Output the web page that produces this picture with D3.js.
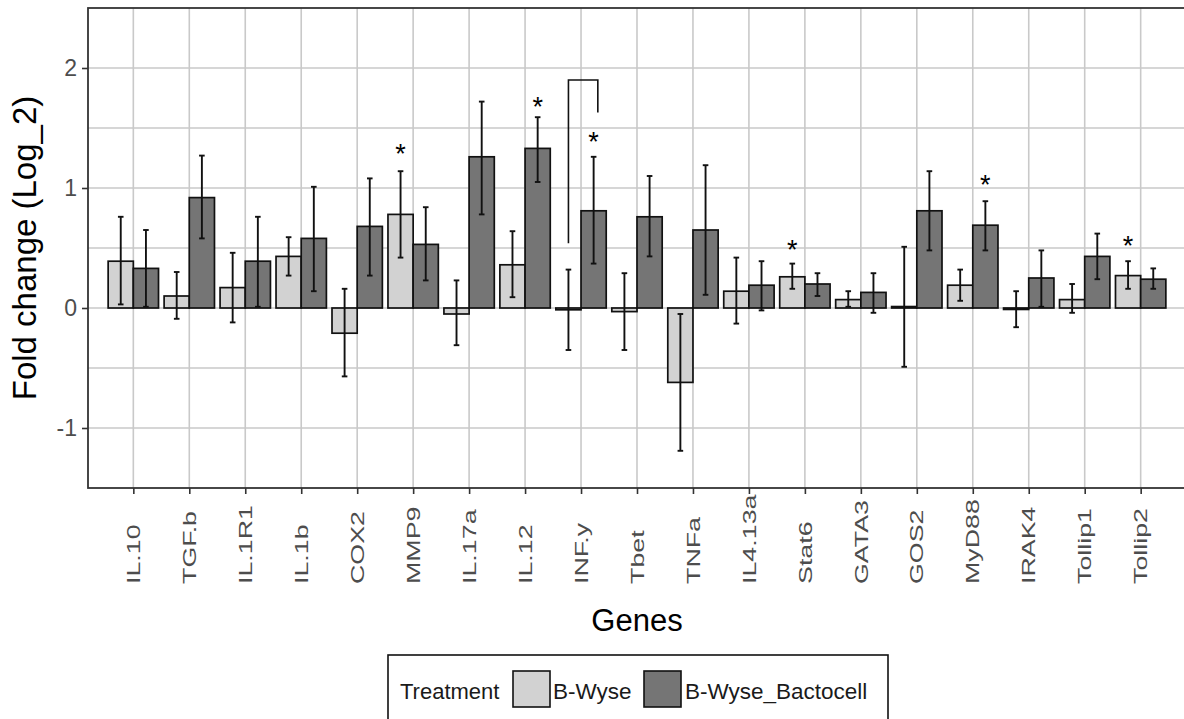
<!DOCTYPE html>
<html><head><meta charset="utf-8">
<script src="https://cdn.jsdelivr.net/npm/d3@7/dist/d3.min.js"></script>
<style>html,body{margin:0;padding:0;background:#fff;overflow:hidden}</style>
</head><body>
<svg id="chart" width="1184" height="719"></svg>
<script>
const genes = ["IL.10","TGF.b","IL.1R1","IL.1b","COX2","MMP9","IL.17a","IL.12","INF.y","Tbet","TNFa","IL4.13a","Stat6","GATA3","GOS2","MyD88","IRAK4","Tollip1","Tollip2"];
const treatments = ["B-Wyse","B-Wyse_Bactocell"];
const bwyse   = [0.39, 0.10, 0.17, 0.43, -0.21, 0.78, -0.05, 0.36, -0.015, -0.03, -0.62, 0.14, 0.26, 0.07, 0.012, 0.19, -0.012, 0.07, 0.27];
const bwyseLo = [0.03, -0.09, -0.12, 0.27, -0.57, 0.42, -0.31, 0.09, -0.35, -0.35, -1.19, -0.13, 0.16, 0.01, -0.49, 0.06, -0.16, -0.04, 0.16];
const bwyseHi = [0.76, 0.30, 0.46, 0.59, 0.16, 1.14, 0.23, 0.64, 0.32, 0.29, -0.05, 0.42, 0.37, 0.14, 0.51, 0.32, 0.14, 0.20, 0.39];
const bacto   = [0.33, 0.92, 0.39, 0.58, 0.68, 0.53, 1.26, 1.33, 0.81, 0.76, 0.65, 0.19, 0.20, 0.13, 0.81, 0.69, 0.25, 0.43, 0.24];
const bactoLo = [0.01, 0.58, 0.01, 0.14, 0.27, 0.23, 0.78, 1.05, 0.37, 0.43, 0.11, -0.02, 0.10, -0.04, 0.48, 0.48, 0.01, 0.24, 0.16];
const bactoHi = [0.65, 1.27, 0.76, 1.01, 1.08, 0.84, 1.72, 1.59, 1.26, 1.10, 1.19, 0.39, 0.29, 0.29, 1.14, 0.89, 0.48, 0.62, 0.33];
const yTicks = [-1, 0, 1, 2];
const yMinor = [-0.5, 0.5, 1.5];
const starGenes  = ["MMP9","IL.12","INF.y","Stat6","MyD88","Tollip2"];
const starSeries = [0, 1, 1, 0, 1, 0];
const starY      = [1.34, 1.73, 1.44, 0.54, 1.08, 0.57];
const bracketGene = "INF.y";
const bracketY = [0.54, 1.90, 1.63];   // left foot, top, right foot

const colors = ["#d2d2d2", "#757575"];
const FONT = "Liberation Sans, Arial, sans-serif";
const svg = d3.select("#chart");
const L = 88, R = 1186, T = 8, B = 488;

const x = d3.scalePoint().domain(genes).range([L, R]).padding(0.81);
const step = x.step();
const y = d3.scaleLinear().domain([-1.5, 2.5]).range([B, T]);
const barW = step * 0.45;
const offs = [-barW/2, barW/2];

// grid
const grid = svg.append("g");
grid.selectAll(".gy").data(yTicks.concat(yMinor)).join("line")
  .attr("x1", L).attr("x2", R).attr("y1", d => y(d)).attr("y2", d => y(d))
  .attr("stroke", "#c9c9c9").attr("stroke-width", 1.6);
grid.selectAll(".gx").data(genes).join("line")
  .attr("x1", d => x(d)).attr("x2", d => x(d)).attr("y1", T).attr("y2", B)
  .attr("stroke", "#c9c9c9").attr("stroke-width", 1.6);

// bars
const series = [
  {vals: bwyse, lo: bwyseLo, hi: bwyseHi},
  {vals: bacto, lo: bactoLo, hi: bactoHi}
];
series.forEach((s, si) => {
  const g = svg.append("g");
  g.selectAll("rect").data(genes).join("rect")
    .attr("x", d => x(d) + (si === 0 ? -barW : 0))
    .attr("width", barW)
    .attr("y", (d, i) => Math.min(y(s.vals[i]), y(0)))
    .attr("height", (d, i) => Math.max(Math.abs(y(s.vals[i]) - y(0)), 0.01))
    .attr("fill", colors[si]).attr("stroke", "#111").attr("stroke-width", 1.7);
});
series.forEach((s, si) => {
  const g = svg.append("g").attr("stroke", "#111").attr("stroke-width", 1.9);
  const cx = (d) => x(d) + offs[si];
  g.selectAll(".v").data(genes).join("line")
    .attr("x1", cx).attr("x2", cx)
    .attr("y1", (d, i) => y(s.lo[i])).attr("y2", (d, i) => y(s.hi[i]));
  g.selectAll(".t").data(genes).join("line")
    .attr("x1", d => cx(d) - 2.8).attr("x2", d => cx(d) + 2.8)
    .attr("y1", (d, i) => y(s.hi[i])).attr("y2", (d, i) => y(s.hi[i]));
  g.selectAll(".b").data(genes).join("line")
    .attr("x1", d => cx(d) - 2.8).attr("x2", d => cx(d) + 2.8)
    .attr("y1", (d, i) => y(s.lo[i])).attr("y2", (d, i) => y(s.lo[i]));
});

// stars
const starF = 27;
svg.append("g").selectAll("text").data(starGenes).join("text")
  .attr("x", (d, i) => x(d) + offs[starSeries[i]])
  .attr("y", (d, i) => y(starY[i]) + 0.58 * starF)
  .attr("text-anchor", "middle")
  .attr("font-family", FONT)
  .attr("font-size", starF).attr("fill", "#000").text("*");

// bracket
const bx0 = x(bracketGene) + offs[0], bx1 = x(bracketGene) + step * 0.3;
svg.append("path")
  .attr("d", d3.line()([[bx0, y(bracketY[0])], [bx0, y(bracketY[1])], [bx1, y(bracketY[1])], [bx1, y(bracketY[2])]]))
  .attr("fill", "none").attr("stroke", "#111").attr("stroke-width", 1.6);

// panel border
svg.append("rect").attr("x", L).attr("y", T).attr("width", R - L).attr("height", B - T)
  .attr("fill", "none").attr("stroke", "#333").attr("stroke-width", 1.8);

// y axis
const yAxis = svg.append("g").attr("transform", `translate(${L},0)`)
  .call(d3.axisLeft(y).tickValues(yTicks).tickSize(6).tickPadding(5).tickFormat(d => String(d)));
yAxis.select(".domain").remove();
yAxis.selectAll(".tick line").attr("stroke", "#333").attr("stroke-width", 1.6);
yAxis.selectAll(".tick text").attr("font-family", FONT)
  .attr("font-size", 23).attr("fill", "#4d4d4d");

// x axis
const xAxis = svg.append("g").attr("transform", `translate(0,${B})`)
  .call(d3.axisBottom(x).tickSize(6).tickFormat(""));
xAxis.select(".domain").remove();
xAxis.selectAll(".tick line").attr("stroke", "#333").attr("stroke-width", 1.6);
svg.append("g").selectAll("text").data(genes).join("text")
  .attr("transform", d => `translate(${x(d)},584) rotate(-90) scale(1.45,1)`)
  .attr("dy", "0.36em").attr("text-anchor", "start")
  .attr("font-family", FONT)
  .attr("font-size", 18.5).attr("fill", "#4d4d4d").text(d => d);

// axis titles
svg.append("text").attr("transform", `translate(36,${(T + B) / 2}) rotate(-90)`)
  .attr("text-anchor", "middle").attr("font-family", FONT)
  .attr("font-size", 33).attr("fill", "#000").text("Fold change (Log_2)");
svg.append("text").attr("x", (L + R) / 2).attr("y", 631)
  .attr("text-anchor", "middle").attr("font-family", FONT)
  .attr("font-size", 31).attr("fill", "#000").text("Genes");

// legend
const lg = svg.append("g");
lg.append("rect").attr("x", 388).attr("y", 655).attr("width", 500).attr("height", 80)
  .attr("fill", "#fff").attr("stroke", "#111").attr("stroke-width", 1.6);
lg.append("text").attr("x", 400).attr("y", 699).attr("font-family", FONT)
  .attr("font-size", 22).attr("fill", "#1a1a1a").text("Treatment");
const keyX = [513, 644], textX = [553, 685];
treatments.forEach((t, i) => {
  lg.append("rect").attr("x", keyX[i]).attr("y", 671).attr("width", 37).attr("height", 36)
    .attr("fill", colors[i]).attr("stroke", "#111").attr("stroke-width", 1.6);
  lg.append("text").attr("x", textX[i]).attr("y", 699).attr("font-family", FONT)
    .attr("font-size", 22.5).attr("fill", "#1a1a1a").text(t);
});
</script>
</body></html>
